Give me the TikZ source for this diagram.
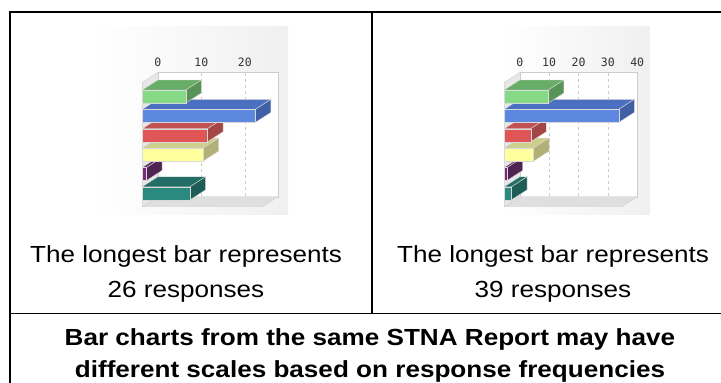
\documentclass[tikz,border=0pt]{standalone}
\usepackage{fontspec}
\setmainfont[FakeStretch=1.12]{Liberation Sans}
\newfontfamily\axisfont{DejaVu Sans Mono}

\definecolor{grnF}{HTML}{86D986}\definecolor{grnT}{HTML}{68AD68}
\definecolor{bluF}{HTML}{5C88E0}\definecolor{bluT}{HTML}{4B70C2}
\definecolor{redF}{HTML}{E05656}\definecolor{redT}{HTML}{C25252}
\definecolor{yelF}{HTML}{FFFF9E}\definecolor{yelT}{HTML}{CFCF8C}
\definecolor{purF}{HTML}{7A2A7A}\definecolor{purT}{HTML}{5E2A60}
\definecolor{tealF}{HTML}{2A8A80}\definecolor{tealT}{HTML}{236E66}

% one 3D bar: scale, value, row, colour
\newcommand{\drawbar}[4]{%
	\pgfmathsetmacro{\xb}{#1*#2}
	\pgfmathsetmacro{\ya}{90+(#3-1)*19.35}
	\pgfmathsetmacro{\yb}{\ya+13}
	\filldraw[fill=#4T, draw=gray!30] (0,\ya) -- ++(15.5,-10) -- (\xb+15.5,\ya-10) -- (\xb,\ya) -- cycle;
	\filldraw[fill=#4T!85!black, draw=gray!30] (\xb,\ya) -- ++(15.5,-10) -- ++(0,13) -- (\xb,\yb) -- cycle;
	\filldraw[fill=#4F, draw=gray!30] (0,\ya) rectangle (\xb,\yb);
}

% chart frame: width of back wall, px per 10 units, last tick
\newcommand{\drawframe}[3]{%
	\fill[gray!18] (0,82.5) -- (15.5,72.5) -- (15.5,196.7) -- (0,206.7) -- cycle;
	\filldraw[fill=white, draw=gray!40] (15.5,72.5) rectangle (15.5+#1,196.7);
	\foreach \t in {10,20,...,#3}
		\draw[gray!40, dashed, line width=0.4] (15.5+\t*#2/10,72.5) -- (15.5+\t*#2/10,196.7);
	\filldraw[fill=gray!25, draw=gray!40] (0,206.7) -- (#1,206.7) -- (15.5+#1,196.7) -- (15.5,196.7) -- cycle;
	\draw[gray!40] (0,82.5) -- (15.5,72.5) (0,82.5) -- (0,206.7);
	\foreach \t in {0,10,...,#3}
		\node[axis] (tick\t) at (15.5+\t*#2/10,62.7) {\t};
}

\begin{document}
\begin{tikzpicture}[x=1pt, y=-1pt,
	every node/.style = {inner sep=0pt},
	caption/.style = {anchor=base, font=\fontsize{23.3}{37}\selectfont},
	axis/.style = {font=\axisfont\fontsize{11.5}{12}\selectfont, text=black!80}]
	\useasboundingbox (0,0) rectangle (721,383);

	% chart pictures
	\shade[left color=white, right color=gray!12] (94.5,26) rectangle (288,214);
	\shade[left color=white, right color=gray!12] (502,26) rectangle (650,214);

	\begin{scope}[shift={(142.3,0)}]
		\drawframe{120}{43.5}{20}
		\foreach \v/\c [count=\i from 1] in {11/teal,1/pur,14/yel,15/red,26/blu,10/grn}
			{\pgfmathtruncatemacro{\r}{7-\i}\drawbar{4.35}{\v}{\r}{\c}}
	\end{scope}
	\begin{scope}[shift={(504.3,0)}]
		\drawframe{117.4}{29.35}{40}
		\foreach \v/\c [count=\i from 1] in {2.5/teal,1/pur,10/yel,9/red,39/blu,15/grn}
			{\pgfmathtruncatemacro{\r}{7-\i}\drawbar{2.935}{\v}{\r}{\c}}
	\end{scope}

	% table
	\draw[line width=2pt] (10,12) rectangle (734,400);
	\draw[line width=1.3pt] (372,12) -- (372,313.5) (10,313.5) -- (734,313.5);

	\node[caption] (left1) at (186,262) {The longest bar represents};
	\node[caption] (left2) at (186,297.5) {26 responses};
	\node[caption] (right1) at (553,262) {The longest bar represents};
	\node[caption] (right2) at (553,297.5) {39 responses};
	\node[caption, font=\bfseries\fontsize{23.3}{37}\selectfont] (note1) at (370,345) {Bar charts from the same STNA Report may have};
	\node[caption, font=\bfseries\fontsize{23.3}{37}\selectfont] (note2) at (370,377.5) {different scales based on response frequencies};
\end{tikzpicture}
\end{document}
